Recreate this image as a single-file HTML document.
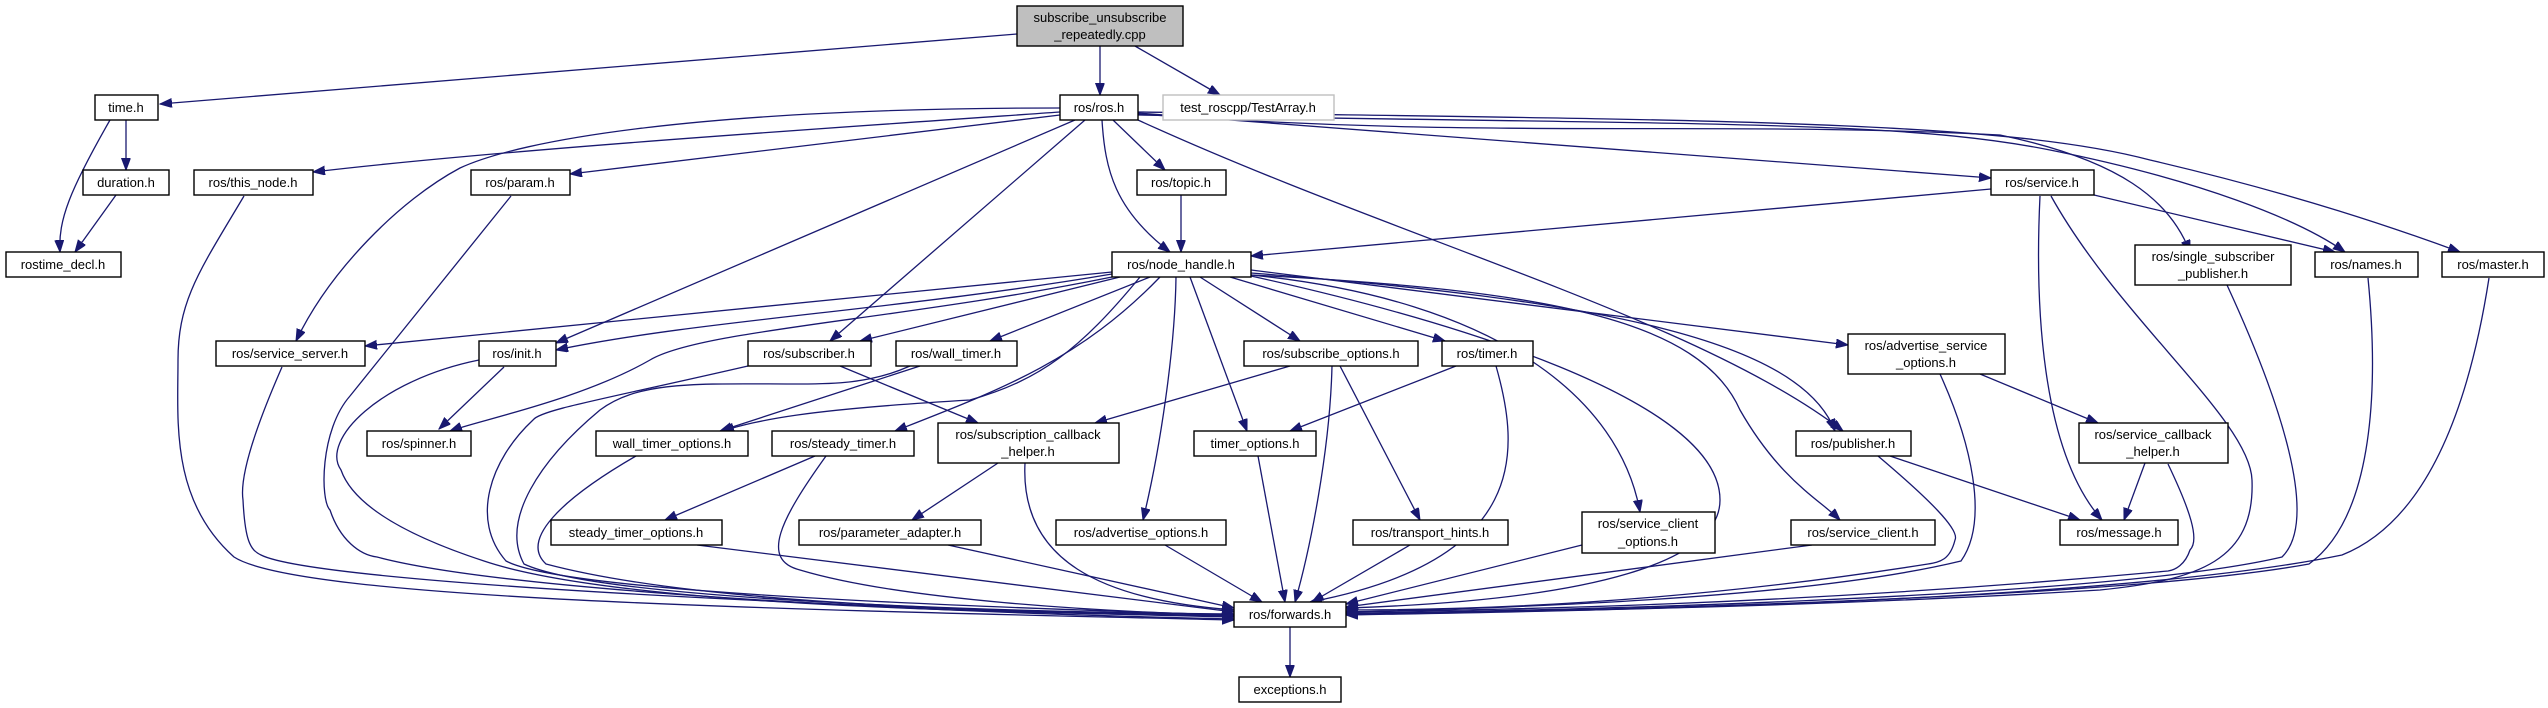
<!DOCTYPE html>
<html><head><meta charset="utf-8"><style>
html,body{margin:0;padding:0;background:#fff}
svg{display:block}
text{font-family:"Liberation Sans",sans-serif;font-size:13px;fill:#000}
.n{fill:#fff;stroke:#000;stroke-width:1.4}
.e path{fill:none;stroke:#191970;stroke-width:1.3;marker-end:url(#a)}
</style></head><body>
<svg width="2548" height="708" viewBox="0 0 2548 708" xmlns="http://www.w3.org/2000/svg">
<defs><marker id="a" markerUnits="userSpaceOnUse" markerWidth="13" markerHeight="10" refX="12" refY="4.5" orient="auto"><path d="M0,0 L12,4.5 L0,9 z" fill="#191970" stroke="#191970"/></marker></defs>
<g class="e">
<path d="M1017,34 L160,104"/>
<path d="M1100,46 L1100,95"/>
<path d="M1135,46 L1220,95"/>
<path d="M126,120 L126,170"/>
<path d="M110,120 C70,190 58,220 60,252"/>
<path d="M116,195 L75,252"/>
<path d="M1060,112 C800,130 500,150 313,172"/>
<path d="M1060,115 L570,174"/>
<path d="M1060,108 C700,108 520,140 460,168 C400,200 330,270 296,341"/>
<path d="M1075,120 L556,343"/>
<path d="M1085,120 L830,341"/>
<path d="M1113,120 L1165,170"/>
<path d="M1102,120 C1105,170 1115,210 1170,252"/>
<path d="M1138,120 C1400,240 1700,320 1843,431"/>
<path d="M1138,113 L1991,178"/>
<path d="M1138,114 C1500,140 1700,120 2000,135 C2120,160 2170,200 2190,252"/>
<path d="M1138,115 C1700,125 1900,120 2050,150 C2200,180 2300,220 2345,252"/>
<path d="M1138,112 C1700,120 2000,120 2150,160 C2300,195 2400,230 2460,252"/>
<path d="M1181,195 L1181,252"/>
<path d="M1991,189 L1251,256"/>
<path d="M2094,195 L2335,252"/>
<path d="M2040,196 C2035,300 2040,450 2102,520"/>
<path d="M2051,196 C2120,320 2250,420 2252,480 C2255,560 2200,580 2100,590 C1800,608 1500,612 1346,614"/>
<path d="M1112,272 L365,346"/>
<path d="M1112,274 C900,310 700,320 556,350"/>
<path d="M1120,277 L860,341"/>
<path d="M1150,277 L990,341"/>
<path d="M1200,277 L1300,341"/>
<path d="M1230,277 L1445,341"/>
<path d="M1251,270 L1848,345"/>
<path d="M1112,277 C900,320 700,330 650,360 C580,400 480,420 450,431"/>
<path d="M1140,277 C1080,350 1040,380 970,400 C800,410 760,420 722,431"/>
<path d="M1160,277 C1080,360 1000,390 895,431"/>
<path d="M1190,277 L1247,431"/>
<path d="M1176,277 C1175,350 1160,450 1143,520"/>
<path d="M1251,275 C1500,300 1620,400 1640,512"/>
<path d="M1251,275 C1550,290 1700,320 1740,410 C1780,480 1820,500 1840,520"/>
<path d="M1251,273 C1600,300 1800,340 1835,431"/>
<path d="M1251,276 C1450,320 1720,400 1720,500 C1720,560 1600,600 1346,608"/>
<path d="M244,196 C200,270 178,300 178,360 C178,420 170,500 234,557 C300,600 800,610 1234,620"/>
<path d="M511,196 L350,396 C320,430 320,500 330,510 C340,540 360,555 377,557 C500,590 900,612 1234,619"/>
<path d="M282,367 C250,440 240,480 243,500 C245,540 250,550 261,555 C320,585 900,610 1234,617"/>
<path d="M479,360 C380,380 320,440 341,470 C355,510 420,540 484,561 C600,600 900,612 1234,616"/>
<path d="M504,367 L439,429"/>
<path d="M840,366 L978,423"/>
<path d="M748,366 C600,400 540,410 533,420 C490,460 470,520 506,561 C560,590 900,605 1234,615"/>
<path d="M920,366 L720,431"/>
<path d="M910,366 C870,384 830,384 800,384 C700,384 640,380 600,410 C540,460 500,520 524,564 C600,600 1000,612 1234,614"/>
<path d="M1290,366 L1095,423"/>
<path d="M1340,366 L1420,520"/>
<path d="M1332,366 C1330,450 1310,550 1295,602"/>
<path d="M1456,366 L1290,431"/>
<path d="M1496,366 C1520,450 1530,560 1310,602"/>
<path d="M1980,374 L2098,423"/>
<path d="M1940,374 C1970,440 1990,520 1961,561 C1800,600 1500,608 1346,612"/>
<path d="M815,456 L665,520"/>
<path d="M826,456 C780,520 760,560 800,570 C900,600 1100,612 1234,615"/>
<path d="M636,456 C560,500 520,540 546,564 C700,605 1000,612 1234,615"/>
<path d="M998,463 L912,520"/>
<path d="M1025,463 C1020,560 1100,600 1234,610"/>
<path d="M1258,456 L1285,602"/>
<path d="M1890,456 L2080,520"/>
<path d="M1878,456 C1930,500 1960,530 1955,540 C1950,560 1940,562 1928,564 C1700,600 1500,610 1346,610"/>
<path d="M2145,463 L2124,520"/>
<path d="M2168,464 C2190,510 2200,540 2190,550 C2185,565 2175,570 2168,571 C1800,605 1500,610 1346,612"/>
<path d="M697,545 L1234,612"/>
<path d="M948,545 L1234,608"/>
<path d="M1165,545 L1262,602"/>
<path d="M1410,545 L1312,602"/>
<path d="M1582,545 L1346,604"/>
<path d="M1812,545 L1346,607"/>
<path d="M2227,285 C2280,400 2320,520 2282,557 C2100,600 1500,612 1346,613"/>
<path d="M2368,278 C2380,400 2370,520 2309,564 C2100,602 1500,612 1346,614"/>
<path d="M2489,278 C2470,400 2430,520 2342,555 C2100,605 1500,612 1346,615"/>
<path d="M1290,627 L1290,677"/>
</g>
<g text-anchor="middle">
<rect x="1017" y="6" width="166" height="40" fill="#bfbfbf" stroke="#000" stroke-width="1.4"/>
<text x="1100" y="22">subscribe_unsubscribe</text><text x="1100" y="39">_repeatedly.cpp</text>
<rect class="n" x="95" y="95" width="63" height="25"/><text x="126" y="112">time.h</text>
<rect class="n" x="1060" y="95" width="78" height="25"/><text x="1099" y="112">ros/ros.h</text>
<rect x="1163" y="95" width="171" height="25" fill="#fff" stroke="#bfbfbf" stroke-width="1.4"/><text x="1248" y="112">test_roscpp/TestArray.h</text>
<rect class="n" x="83" y="170" width="86" height="25"/><text x="126" y="187">duration.h</text>
<rect class="n" x="194" y="170" width="119" height="25"/><text x="253" y="187">ros/this_node.h</text>
<rect class="n" x="471" y="170" width="99" height="25"/><text x="520" y="187">ros/param.h</text>
<rect class="n" x="1137" y="170" width="89" height="25"/><text x="1181" y="187">ros/topic.h</text>
<rect class="n" x="1991" y="170" width="103" height="25"/><text x="2042" y="187">ros/service.h</text>
<rect class="n" x="6" y="252" width="115" height="25"/><text x="63" y="269">rostime_decl.h</text>
<rect class="n" x="1112" y="252" width="139" height="25"/><text x="1181" y="269">ros/node_handle.h</text>
<rect class="n" x="2135" y="245" width="156" height="40"/><text x="2213" y="261">ros/single_subscriber</text><text x="2213" y="278">_publisher.h</text>
<rect class="n" x="2315" y="252" width="103" height="25"/><text x="2366" y="269">ros/names.h</text>
<rect class="n" x="2442" y="252" width="102" height="25"/><text x="2493" y="269">ros/master.h</text>
<rect class="n" x="216" y="341" width="149" height="25"/><text x="290" y="358">ros/service_server.h</text>
<rect class="n" x="479" y="341" width="77" height="25"/><text x="517" y="358">ros/init.h</text>
<rect class="n" x="748" y="341" width="123" height="25"/><text x="809" y="358">ros/subscriber.h</text>
<rect class="n" x="896" y="341" width="121" height="25"/><text x="956" y="358">ros/wall_timer.h</text>
<rect class="n" x="1244" y="341" width="174" height="25"/><text x="1331" y="358">ros/subscribe_options.h</text>
<rect class="n" x="1442" y="341" width="91" height="25"/><text x="1487" y="358">ros/timer.h</text>
<rect class="n" x="1848" y="334" width="157" height="40"/><text x="1926" y="350">ros/advertise_service</text><text x="1926" y="367">_options.h</text>
<rect class="n" x="367" y="431" width="104" height="25"/><text x="419" y="448">ros/spinner.h</text>
<rect class="n" x="596" y="431" width="152" height="25"/><text x="672" y="448">wall_timer_options.h</text>
<rect class="n" x="772" y="431" width="142" height="25"/><text x="843" y="448">ros/steady_timer.h</text>
<rect class="n" x="938" y="423" width="181" height="40"/><text x="1028" y="439">ros/subscription_callback</text><text x="1028" y="456">_helper.h</text>
<rect class="n" x="1194" y="431" width="122" height="25"/><text x="1255" y="448">timer_options.h</text>
<rect class="n" x="1796" y="431" width="115" height="25"/><text x="1853" y="448">ros/publisher.h</text>
<rect class="n" x="2079" y="423" width="149" height="40"/><text x="2153" y="439">ros/service_callback</text><text x="2153" y="456">_helper.h</text>
<rect class="n" x="551" y="520" width="171" height="25"/><text x="636" y="537">steady_timer_options.h</text>
<rect class="n" x="799" y="520" width="182" height="25"/><text x="890" y="537">ros/parameter_adapter.h</text>
<rect class="n" x="1056" y="520" width="170" height="25"/><text x="1141" y="537">ros/advertise_options.h</text>
<rect class="n" x="1353" y="520" width="155" height="25"/><text x="1430" y="537">ros/transport_hints.h</text>
<rect class="n" x="1582" y="512" width="133" height="41"/><text x="1648" y="528">ros/service_client</text><text x="1648" y="546">_options.h</text>
<rect class="n" x="1791" y="520" width="144" height="25"/><text x="1863" y="537">ros/service_client.h</text>
<rect class="n" x="2060" y="520" width="118" height="25"/><text x="2119" y="537">ros/message.h</text>
<rect class="n" x="1234" y="602" width="112" height="25"/><text x="1290" y="619">ros/forwards.h</text>
<rect class="n" x="1239" y="677" width="102" height="25"/><text x="1290" y="694">exceptions.h</text>
</g>
</svg>
</body></html>
